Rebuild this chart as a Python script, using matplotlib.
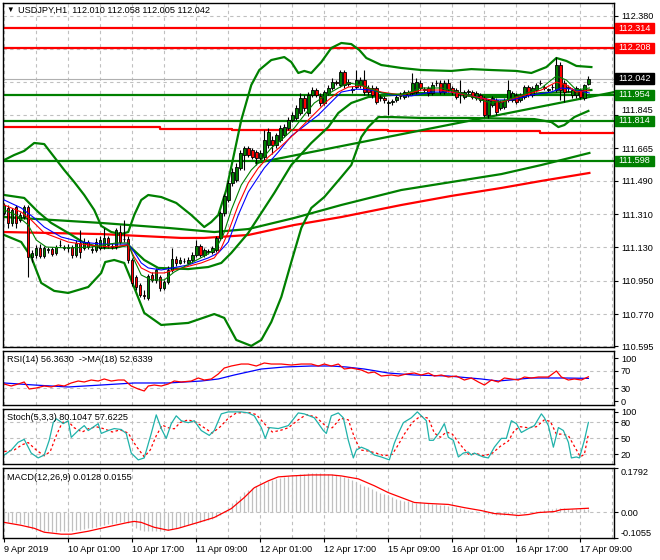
import matplotlib.pyplot as plt
import matplotlib.transforms as mtransforms
from matplotlib.patches import Rectangle

plt.rcParams['font.family'] = ['Liberation Sans', 'DejaVu Sans']
plt.rcParams['font.size'] = 6.6

GREEN = '#008000'
GRID = '#c0c0c0'

# USDJPY H1 candles, bar 0 = 9 Apr 09:00
opens = [
    111.316, 111.343, 111.262, 111.348, 111.278, 111.294, 111.348, 111.078, 111.089, 111.127,
    111.084, 111.116, 111.121, 111.100, 111.143, 111.127, 111.127, 111.132, 111.089, 111.154,
    111.127, 111.159, 111.116, 111.116, 111.127, 111.132, 111.181, 111.132, 111.132, 111.213,
    111.175, 111.175, 111.062, 110.970, 110.927, 110.873, 110.857, 110.981, 110.954, 110.970,
    110.911, 110.943, 111.008, 111.067, 111.046, 111.057, 111.046, 111.062, 111.089, 111.138,
    111.089, 111.105, 111.105, 111.116, 111.181, 111.316, 111.386, 111.478, 111.494, 111.559,
    111.629, 111.667, 111.656, 111.645, 111.613, 111.618, 111.683, 111.710, 111.683, 111.710,
    111.737, 111.775, 111.818, 111.829, 111.856, 111.937, 111.856, 111.953, 111.980, 111.948,
    111.910, 111.964, 111.991, 112.023, 112.007, 112.077, 112.023, 111.980, 111.996, 112.007,
    112.034, 111.991, 111.991, 111.991, 111.937, 111.937, 111.910, 111.915, 111.926, 111.948,
    111.942, 111.953, 111.964, 111.969, 112.018, 111.980, 111.991, 111.964, 112.018, 112.018,
    111.969, 112.018, 111.991, 111.980, 111.969, 111.942, 111.969, 111.969, 111.937, 111.953,
    111.937, 111.845, 111.899, 111.926, 111.883, 111.888, 111.926, 111.926, 111.953, 111.926,
    111.942, 111.996, 111.953, 111.980, 112.018, 111.991, 111.980, 111.996, 111.980, 112.115,
    112.018, 111.991, 111.953, 111.953, 111.980, 111.937, 112.010]
highs = [
    111.370, 111.359, 111.343, 111.359, 111.321, 111.359, 111.359, 111.116, 111.143, 111.148,
    111.138, 111.132, 111.132, 111.143, 111.170, 111.143, 111.148, 111.143, 111.170, 111.224,
    111.181, 111.170, 111.138, 111.181, 111.192, 111.235, 111.192, 111.154, 111.235, 111.251,
    111.278, 111.192, 111.073, 110.981, 110.938, 110.900, 110.986, 110.997, 111.019, 110.981,
    110.954, 111.030, 111.127, 111.084, 111.078, 111.073, 111.078, 111.105, 111.170, 111.148,
    111.127, 111.121, 111.138, 111.192, 111.327, 111.418, 111.494, 111.559, 111.586, 111.656,
    111.678, 111.678, 111.667, 111.656, 111.656, 111.764, 111.775, 111.732, 111.748, 111.791,
    111.796, 111.834, 111.861, 111.899, 111.964, 111.953, 111.969, 111.996, 111.991, 111.964,
    111.980, 112.007, 112.045, 112.034, 112.088, 112.088, 112.039, 112.002, 112.088, 112.050,
    112.088, 112.007, 112.007, 112.002, 111.953, 111.948, 111.926, 111.931, 111.953, 111.969,
    111.980, 111.980, 112.072, 112.045, 112.034, 111.996, 112.002, 112.023, 112.034, 112.034,
    112.034, 112.039, 112.002, 111.991, 112.034, 111.980, 111.985, 111.980, 111.975, 111.964,
    111.948, 111.931, 111.948, 111.937, 111.926, 111.937, 112.034, 111.975, 111.964, 111.964,
    112.007, 112.007, 112.002, 112.018, 112.034, 112.007, 111.991, 112.012, 112.158, 112.131,
    112.034, 112.007, 111.991, 112.002, 111.991, 112.012, 112.058]
lows = [
    111.305, 111.235, 111.246, 111.235, 111.267, 111.283, 110.970, 111.051, 111.073, 111.073,
    111.073, 111.100, 111.084, 111.089, 111.132, 111.116, 111.105, 111.073, 111.078, 111.073,
    111.116, 111.121, 111.100, 111.105, 111.116, 111.121, 111.127, 111.121, 111.121, 111.148,
    111.159, 111.046, 110.922, 110.900, 110.862, 110.851, 110.846, 110.943, 110.938, 110.895,
    110.900, 110.932, 110.997, 111.030, 111.040, 111.046, 111.035, 111.051, 111.078, 111.078,
    111.078, 111.094, 111.094, 111.105, 111.170, 111.300, 111.375, 111.462, 111.483, 111.548,
    111.548, 111.618, 111.607, 111.575, 111.602, 111.602, 111.667, 111.634, 111.667, 111.699,
    111.726, 111.764, 111.807, 111.818, 111.845, 111.867, 111.840, 111.942, 111.942, 111.894,
    111.899, 111.953, 111.980, 112.007, 111.996, 111.991, 112.002, 111.964, 111.985, 111.991,
    111.953, 111.953, 111.937, 111.904, 111.921, 111.910, 111.845, 111.899, 111.915, 111.931,
    111.931, 111.942, 111.953, 111.958, 111.980, 111.969, 111.948, 111.953, 112.002, 111.958,
    111.958, 111.969, 111.953, 111.931, 111.910, 111.931, 111.958, 111.931, 111.926, 111.915,
    111.834, 111.829, 111.888, 111.845, 111.872, 111.877, 111.915, 111.915, 111.904, 111.915,
    111.931, 111.942, 111.942, 111.969, 112.007, 111.980, 111.969, 111.980, 111.969, 111.926,
    111.915, 111.969, 111.937, 111.937, 111.931, 111.926, 112.005]
closes = [
    111.359, 111.262, 111.332, 111.262, 111.305, 111.348, 111.078, 111.100, 111.127, 111.084,
    111.127, 111.119, 111.094, 111.132, 111.145, 111.132, 111.130, 111.089, 111.154, 111.105,
    111.159, 111.132, 111.119, 111.159, 111.170, 111.181, 111.143, 111.135, 111.224, 111.159,
    111.178, 111.062, 110.938, 110.916, 110.873, 110.870, 110.976, 110.954, 111.008, 110.911,
    110.943, 111.008, 111.067, 111.046, 111.062, 111.055, 111.062, 111.089, 111.138, 111.089,
    111.116, 111.108, 111.127, 111.181, 111.316, 111.408, 111.478, 111.537, 111.564, 111.640,
    111.667, 111.629, 111.618, 111.613, 111.640, 111.710, 111.753, 111.683, 111.737, 111.775,
    111.780, 111.818, 111.845, 111.883, 111.937, 111.883, 111.953, 111.980, 111.953, 111.910,
    111.969, 111.991, 112.023, 112.020, 112.077, 112.007, 112.015, 111.985, 112.034, 112.034,
    111.969, 111.969, 111.953, 111.915, 111.940, 111.926, 111.915, 111.918, 111.942, 111.945,
    111.969, 111.969, 112.018, 112.023, 111.991, 111.983, 111.964, 112.007, 112.020, 111.969,
    112.018, 111.980, 111.969, 111.942, 111.966, 111.969, 111.972, 111.942, 111.964, 111.926,
    111.845, 111.926, 111.937, 111.861, 111.915, 111.926, 111.980, 111.964, 111.915, 111.953,
    111.996, 111.953, 111.991, 112.007, 112.020, 111.994, 111.983, 111.999, 112.115, 111.980,
    111.969, 111.994, 111.980, 111.991, 111.942, 112.007, 112.042]

# Bollinger bands (upper / middle / lower), sampled
bb_up_x = [0, 2.5, 5, 7.5, 10, 12.5, 15, 17.5, 20, 22.5, 24.25, 26.75, 29.25, 31, 32.5, 34.25, 36,
           39.25, 43, 46.75, 50, 51.75, 53.5, 55.5, 57.5, 59.25, 61.75, 63.75, 66.75, 70, 71.75,
           73.5, 75, 76.75, 79.25, 81.75, 84.25, 86.75, 88.75, 90.5, 94.25, 99.25, 104.25, 111.75,
           116.75, 121.75, 128, 131.75, 135.5, 138, 140.5, 143, 146.75]
bb_up_y = [111.602, 111.629, 111.651, 111.694, 111.688, 111.618, 111.548, 111.483, 111.413, 111.332,
           111.246, 111.213, 111.202, 111.213, 111.305, 111.386, 111.413, 111.402, 111.370, 111.305,
           111.240, 111.267, 111.305, 111.440, 111.640, 111.818, 112.007, 112.088, 112.142, 112.158,
           112.131, 112.072, 112.083, 112.072, 112.131, 112.207, 112.234, 112.228, 112.196, 112.153,
           112.115, 112.099, 112.088, 112.083, 112.093, 112.088, 112.083, 112.072, 112.104, 112.153,
           112.137, 112.110, 112.104]
bb_mid_x = [0, 5, 8.5, 11.75, 16, 20, 24.25, 27.5, 31, 35, 38.5, 46, 51, 54.25, 56.75, 61, 64.25,
            67.5, 71.75, 76.75, 81, 83.5, 86.75, 91, 96.75, 104.25, 111.75, 119.25, 126.75, 134.25,
            141.75, 146.75]
bb_mid_y = [111.413, 111.397, 111.321, 111.262, 111.208, 111.154, 111.127, 111.127, 111.143, 111.062,
            111.019, 111.013, 111.024, 111.046, 111.100, 111.208, 111.316, 111.424, 111.575, 111.694,
            111.780, 111.856, 111.910, 111.942, 111.953, 111.964, 111.958, 111.942, 111.942, 111.964,
            111.969, 111.980]
bb_lo_x = [0, 4.25, 6.75, 9.25, 12.5, 16, 21, 24.25, 25.25, 27.5, 30, 31.75, 35, 39.25, 46, 52.5, 55,
           58, 61.75, 64.25, 66.75, 69.25, 71.75, 74.25, 76.75, 80, 84.25, 86.75, 89.25, 91, 93.5,
           96.75, 104.25, 116, 132.5, 136.75, 138.5, 140, 142.5, 146]
bb_lo_y = [111.197, 111.159, 111.078, 110.938, 110.895, 110.884, 110.916, 110.992, 111.051, 111.062,
           111.046, 110.954, 110.776, 110.711, 110.722, 110.770, 110.749, 110.630, 110.598, 110.630,
           110.727, 110.862, 111.051, 111.235, 111.343, 111.402, 111.510, 111.575, 111.726, 111.780,
           111.834, 111.834, 111.829, 111.829, 111.823, 111.807, 111.780, 111.791, 111.834, 111.867]

# fast moving averages (green, red, blue)
ma_g_x = [0, 3, 6, 8, 10.5, 16, 21.75, 28, 31, 32.5, 34.25, 36.75, 40, 42.5, 46.75, 50.5, 53, 54.75,
          56.75, 59.25, 61.75, 64.25, 66.75, 69.25, 72.5, 75, 77.5, 80.5, 83.5, 86, 89.25, 94.25,
          99.25, 104.25, 109.25, 114.25, 119.25, 121.75, 125.5, 129.25, 134.25, 138, 140.5, 143,
          146.25]
ma_g_y = [111.332, 111.305, 111.251, 111.170, 111.132, 111.127, 111.132, 111.154, 111.154, 111.062,
          110.981, 110.954, 110.954, 110.997, 111.046, 111.089, 111.127, 111.197, 111.332, 111.467,
          111.548, 111.602, 111.667, 111.710, 111.775, 111.845, 111.910, 111.953, 111.991, 112.018,
          112.007, 111.964, 111.953, 111.991, 111.991, 111.964, 111.926, 111.910, 111.926, 111.953,
          111.991, 112.056, 112.034, 111.980, 111.991]
ma_r_x = [0, 4.25, 6.75, 10, 16, 21, 26.75, 31, 32.5, 34.25, 36.75, 40, 42.5, 49.25, 52.5, 54.25,
          56, 58.5, 61, 63.5, 66, 69.25, 72.5, 76, 78.5, 81, 83.5, 86, 89.25, 94.25, 99.25, 104.25,
          109.25, 114.25, 119.25, 124.25, 129.25, 134.25, 138, 140.5, 143, 146.25]
ma_r_y = [111.359, 111.321, 111.278, 111.208, 111.159, 111.143, 111.132, 111.143, 111.078, 111.019,
          110.992, 110.992, 111.008, 111.046, 111.073, 111.127, 111.213, 111.359, 111.478, 111.559,
          111.618, 111.678, 111.742, 111.818, 111.872, 111.926, 111.969, 111.996, 112.002, 111.969,
          111.953, 111.980, 111.980, 111.958, 111.937, 111.915, 111.948, 111.980, 112.023, 112.007,
          111.969, 111.980]
ma_b_x = [0, 4.25, 7.5, 10, 14.25, 19.25, 24.25, 31, 32.5, 34.25, 36, 39.25, 46, 51, 53.5, 56, 58.5,
          61, 65, 68.5, 71.75, 75, 78.5, 81.75, 84.25, 88, 91.75, 96.75, 101.75, 106.75, 111.75,
          116.75, 121.75, 126.75, 131.75, 136.75, 139.25, 141.75, 146.25]
ma_b_y = [111.386, 111.343, 111.289, 111.240, 111.186, 111.159, 111.148, 111.148, 111.105, 111.046,
          111.019, 111.008, 111.035, 111.073, 111.100, 111.159, 111.305, 111.429, 111.559, 111.645,
          111.732, 111.786, 111.845, 111.915, 111.969, 111.985, 111.980, 111.953, 111.948, 111.969,
          111.969, 111.948, 111.926, 111.926, 111.953, 111.969, 111.991, 111.985, 111.964]

# slow moving averages, step line and trend line
slow_g_x = [0, 24.25, 41, 52.5, 61, 72.5, 84.25, 99.25, 111.75, 124.25, 134.25, 139.25, 146.25]
slow_g_y = [111.294, 111.262, 111.235, 111.213, 111.229, 111.289, 111.359, 111.440, 111.483, 111.526,
            111.575, 111.602, 111.640]
slow_r_x = [0, 24.25, 44.25, 50, 61, 72.5, 84.25, 99.25, 111.75, 124.25, 134.25, 146.25]
slow_r_y = [111.213, 111.202, 111.181, 111.181, 111.197, 111.251, 111.294, 111.359, 111.408, 111.451,
            111.489, 111.532]
step_r_x = [0, 39, 57, 96, 134, 152.5]
step_r_y = [111.780, 111.770, 111.764, 111.758, 111.747, 111.747]
trend_x = [63, 152.5]
trend_y = [111.586, 111.969]

levels_red = [112.314, 112.208]
levels_green = [111.954, 111.814, 111.598]
last_price = 112.042
price_ticks = [110.595, 110.770, 110.950, 111.130, 111.310, 111.490, 111.665, 111.845,
               112.025, 112.200, 112.380]
hidden_ticks = [112.025, 112.200]   # covered by the level boxes on the original

# RSI(14) and its MA(18)
rsi_x = [0, 1.75, 3.5, 5, 6.25, 8, 10, 11.75, 13.5, 15, 16.75, 18.5, 20, 21.75, 23.5, 25, 26.75, 28.5,
         30, 31.75, 33.5, 35, 36, 37.5, 39.25, 41, 42.5, 44.25, 46.75, 48.5, 50, 51.75, 53.5, 55,
         56.75, 59.25, 61, 63, 65, 66.75, 69.25, 71.75, 74.25, 76.75, 78.5, 80, 81.75, 83.5, 85,
         86.75, 89.25, 91, 92.5, 94.25, 96.75, 98.5, 100.5, 102.5, 104.25, 106, 107.5, 109.25, 111,
         113, 115, 116.75, 118.5, 120, 121.75, 123.5, 125, 126.75, 128.5, 130, 131.75, 133.5, 136,
         138, 139.25, 141, 142.5, 144.25, 146]
rsi_y = [39.5, 34.9, 39.5, 44.2, 27.9, 30.2, 34.9, 32.6, 37.2, 34.9, 41.9, 46.5, 44.2, 48.8, 46.5,
         51.2, 46.5, 48.8, 48.8, 34.9, 27.9, 23.3, 34.9, 37.2, 34.9, 39.5, 46.5, 44.2, 46.5, 53.5,
         48.8, 51.2, 62.8, 76.7, 81.4, 86.0, 86.0, 81.4, 88.4, 86.0, 86.0, 83.7, 86.0, 86.0, 81.4,
         86.0, 81.4, 86.0, 74.4, 76.7, 72.1, 65.1, 67.4, 58.1, 60.5, 58.1, 62.8, 65.1, 60.5, 65.1,
         58.1, 60.5, 55.8, 58.1, 48.8, 53.5, 44.2, 37.2, 48.8, 44.2, 53.5, 51.2, 48.8, 55.8, 53.5,
         55.8, 55.8, 69.8, 55.8, 48.8, 51.2, 48.8, 56.36]
rsi_ma_x = [0, 7.5, 16, 24.25, 32.5, 41, 49.25, 53.5, 57.5, 64.25, 70, 76.75, 81.75, 85.5, 90, 96,
            102.5, 111, 119.25, 123.5, 131.75, 140, 146]
rsi_ma_y = [41.9, 37.2, 32.6, 37.2, 41.9, 41.9, 46.5, 51.2, 60.5, 74.4, 79.1, 81.4, 81.4, 79.1, 74.4,
            65.1, 60.5, 58.1, 51.2, 46.5, 53.5, 53.5, 52.63]

# Stochastic(5,3,3)
st_x = [0, 1.75, 3.5, 5, 6.75, 8.5, 10, 11.25, 12.25, 13, 13.75, 14.75, 16, 16.75, 18.5, 20, 21,
        23.5, 24.25, 26, 27.5, 29.25, 30.5, 31.75, 33.5, 35, 36.75, 38, 39.25, 40.5, 41.75, 43,
        44.25, 46, 47.5, 49.25, 51.25, 52.5, 54.25, 56, 59.25, 61, 62.5, 64.25, 65.25, 66.25, 68.5,
        71, 73.5, 75, 77.5, 79.75, 80.5, 81.75, 83.5, 84.75, 86, 87.25, 88, 89.25, 91, 92.5, 94.25,
        96.25, 97.5, 98.5, 99.75, 101.75, 103.25, 104.25, 105.5, 106.25, 107.25, 108.75, 110, 111,
        112.25, 113.5, 114.75, 116, 116.75, 117.5, 118.5, 119.75, 121, 122.5, 124.25, 125.5,
        126.75, 128, 129.25, 131, 132.5, 134.25, 135, 136, 137.25, 138.5, 139.75, 141, 141.75, 143,
        143.75, 145, 146]
st_y = [18.5, 27.8, 42.6, 48.1, 22.2, 13.0, 18.5, 46.3, 79.6, 87.0, 83.3, 77.8, 83.3, 51.9, 64.8,
        74.1, 64.8, 77.8, 59.3, 64.8, 68.5, 66.7, 59.3, 22.2, 9.3, 13.0, 59.3, 94.4, 68.5, 50.0,
        77.8, 92.6, 83.3, 79.6, 83.3, 64.8, 55.6, 64.8, 96.3, 100, 100, 98.1, 92.6, 70.4, 50.0, 70.4,
        68.5, 74.1, 98.1, 96.3, 88.9, 64.8, 59.3, 92.6, 98.1, 88.9, 46.3, 13.0, 27.8, 33.3, 27.8,
        18.5, 14.8, 9.3, 40.7, 59.3, 79.6, 88.9, 100, 92.6, 83.3, 46.3, 46.3, 61.1, 77.8, 51.9,
        46.3, 14.8, 22.2, 24.1, 18.5, 22.2, 18.5, 14.8, 13.0, 33.3, 50.0, 50.0, 83.3, 77.8, 61.1,
        68.5, 74.1, 96.3, 88.9, 74.1, 33.3, 70.4, 64.8, 42.6, 13.0, 14.8, 13.0, 46.3, 80.1]
sig_x = [0, 2.5, 4.5, 6, 8, 10, 11.5, 13, 14.5, 16, 17.5, 19.5, 21, 23, 25, 27, 29, 31, 33, 35,
         36.5, 38, 39.5, 41, 42.5, 44, 46, 48, 50, 52, 54, 56, 58, 61, 63, 65, 67, 69, 71, 73.5,
         75.5, 78, 80.5, 82, 84, 86, 87.5, 89, 91, 93, 95, 97, 98.5, 100, 102, 104, 106, 107.5,
         109, 110.5, 112, 114, 116, 118, 120, 122, 124, 126, 127.5, 129, 131, 133, 135, 136.5, 138,
         139.5, 141, 142.5, 144, 145, 146]
sig_y = [25, 28, 38, 42, 28, 17, 25, 55, 80, 82, 70, 62, 68, 72, 68, 62, 66, 60, 35, 15, 28, 55,
         75, 70, 68, 80, 85, 80, 70, 60, 72, 88, 98, 99, 95, 78, 62, 65, 70, 85, 95, 90, 72, 70, 88,
         85, 52, 28, 26, 22, 17, 20, 38, 58, 80, 92, 88, 60, 52, 62, 58, 38, 20, 21, 17, 22, 35, 45,
         65, 72, 70, 72, 85, 82, 58, 58, 55, 35, 15, 20, 57.6]

# MACD(12,26,9): histogram per bar and signal line
macd_main = [
    -0.040, -0.042, -0.044, -0.046, -0.048, -0.050, -0.062,
    -0.068, -0.072, -0.075, -0.077, -0.079, -0.080, -0.080, -0.079, -0.078, -0.077,
    -0.076, -0.074, -0.072, -0.069, -0.066, -0.063, -0.060, -0.057,
    -0.053, -0.050, -0.048, -0.044, -0.042, -0.040, -0.046,
    -0.056, -0.064, -0.071, -0.077, -0.078, -0.078, -0.077, -0.077,
    -0.075, -0.072, -0.067, -0.064, -0.060, -0.056, -0.052, -0.048, -0.043,
    -0.040, -0.036, -0.032, -0.028, -0.022,
    -0.010, 0.004, 0.020, 0.036, 0.050, 0.066, 0.080,
    0.090, 0.098, 0.104, 0.110, 0.118, 0.125, 0.130, 0.135, 0.139, 0.143,
    0.146, 0.149, 0.152, 0.154, 0.156, 0.157, 0.158, 0.158, 0.158, 0.157, 0.156, 0.155,
    0.152, 0.148, 0.143, 0.137, 0.130, 0.122, 0.115, 0.107, 0.100, 0.092,
    0.085, 0.079, 0.072, 0.066, 0.060, 0.055, 0.051, 0.047, 0.043, 0.040,
    0.038, 0.037, 0.036, 0.035, 0.034, 0.032, 0.030, 0.028, 0.026, 0.024,
    0.021, 0.018, 0.014, 0.010, 0.006, 0.003, 0.000, -0.004, -0.006, -0.008,
    -0.010, -0.010, -0.010, -0.009, -0.008, -0.006, -0.004, -0.002, 0.000, 0.002,
    0.004, 0.006, 0.008, 0.010, 0.012, 0.016, 0.016, 0.015, 0.014, 0.013, 0.012, 0.012, 0.012,
    0.0128]
macd_sig_x = [0, 4.25, 7.5, 10, 14.25, 16.75, 21, 24.25, 31, 32.5, 34.25, 37.5, 41, 43.5, 48.5,
              52.5, 56.75, 60, 62.5, 66, 68.5, 71.75, 76.75, 81.75, 84.25, 88.5, 92.5, 96, 99.25,
              102.5, 106, 111, 115, 119.25, 122.5, 126, 128.5, 131, 133.5, 137.5, 139.25, 146]
macd_sig_y = [-0.042, -0.054, -0.066, -0.082, -0.090, -0.090, -0.078, -0.066, -0.042, -0.038,
              -0.042, -0.062, -0.074, -0.066, -0.042, -0.022, 0.014, 0.059, 0.099, 0.127, 0.143,
              0.147, 0.151, 0.151, 0.147, 0.135, 0.107, 0.079, 0.059, 0.039, 0.035, 0.031, 0.018,
              0.006, -0.006, -0.010, -0.014, -0.010, -0.002, 0.002, 0.010, 0.0155]

date_bars = [0, 16, 32, 48, 64, 80, 96, 112, 128, 144]
date_labels = ['9 Apr 2019', '10 Apr 01:00', '10 Apr 17:00', '11 Apr 09:00', '12 Apr 01:00',
               '12 Apr 17:00', '15 Apr 09:00', '16 Apr 01:00', '16 Apr 17:00', '17 Apr 09:00']

n = len(closes)
assert len(opens) == n and len(highs) == n and len(lows) == n and len(macd_main) == n
bars = list(range(n))

fig = plt.figure(figsize=(6.6, 5.6), dpi=100)


def panel(top, bottom):
    ax = fig.add_axes([3 / 660, 1 - bottom / 560, 611 / 660, (bottom - top) / 560])
    ax.set_xlim(-0.3, 152.4)
    for s in ax.spines.values():
        s.set_linewidth(1.0)
        s.set_color('black')
    ax.yaxis.tick_right()
    ax.tick_params(axis='y', length=3, width=0.8, pad=2, labelsize=6.6)
    ax.tick_params(axis='x', length=0, labelbottom=False)
    ax.set_xticks([])
    for gx in range(0, 153, 8):
        ax.axvline(gx, color=GRID, ls=(0, (3, 3)), lw=0.8, zorder=0)
    return ax


# ---- main price panel
ax = panel(3, 347)
ax.set_ylim(110.592, 112.450)
ax.set_yticks(price_ticks)
ax.set_yticklabels(['' if t in hidden_ticks else '%.3f' % t for t in price_ticks])
for t, lbl in zip(price_ticks, ax.get_yticklabels()):
    if t == 111.845:
        lbl.set_va('bottom')
for t in price_ticks:
    ax.axhline(t, color=GRID, ls=(0, (3, 3)), lw=0.8, zorder=0)

ax.axhline(last_price, color='#b0b0b0', lw=0.8, zorder=1)
for lv in levels_red:
    ax.axhline(lv, color='red', lw=1.6, zorder=2)
for lv in levels_green:
    ax.axhline(lv, color=GREEN, lw=1.6, zorder=2)

ax.plot(step_r_x, step_r_y, color='red', lw=1.6, drawstyle='steps-post', zorder=2)
ax.plot(slow_r_x, slow_r_y, color='red', lw=1.6, zorder=2)
ax.plot(slow_g_x, slow_g_y, color=GREEN, lw=1.6, zorder=2)
ax.plot(trend_x, trend_y, color=GREEN, lw=1.6, zorder=2)
ax.plot(bb_up_x, bb_up_y, color=GREEN, lw=1.6, zorder=2)
ax.plot(bb_mid_x, bb_mid_y, color=GREEN, lw=1.6, zorder=2)
ax.plot(bb_lo_x, bb_lo_y, color=GREEN, lw=1.6, zorder=2)

ax.vlines(bars, lows, highs, color='black', lw=0.8, zorder=3)
bottoms = [min(o, c) for o, c in zip(opens, closes)]
heights = [max(abs(c - o), 0.0015) for o, c in zip(opens, closes)]
colors = [GREEN if c >= o else 'red' for o, c in zip(opens, closes)]
ax.bar(bars, heights, bottom=bottoms, width=0.62, color=colors, edgecolor='black',
       linewidth=0.6, zorder=3)

ax.plot(ma_b_x, ma_b_y, color='blue', lw=0.8, zorder=4)
ax.plot(ma_r_x, ma_r_y, color='red', lw=0.8, zorder=4)
ax.plot(ma_g_x, ma_g_y, color=GREEN, lw=0.8, zorder=4)

# price boxes on the right scale
trans = mtransforms.blended_transform_factory(ax.transAxes, ax.transData)
boxes = [(levels_red[0], 'red'), (levels_red[1], 'red'), (last_price, 'black'),
         (levels_green[0], GREEN), (levels_green[1], GREEN), (levels_green[2], GREEN)]
for price, fc in boxes:
    ax.add_patch(Rectangle((1.002, price - 0.028), 0.063, 0.056, transform=trans,
                           fc=fc, ec=fc, clip_on=False, zorder=9))
    ax.text(1.0075, price, '%.3f' % price, transform=trans, color='white', va='center',
            ha='left', fontsize=6.6, clip_on=False, zorder=10)

fig.text(6 / 660, 1 - 10 / 560, '\u25bc', fontsize=5.5, va='center', ha='left')
fig.text(18 / 660, 1 - 10 / 560, 'USDJPY,H1  112.010 112.058 112.005 112.042',
         va='center', ha='left')

# ---- RSI panel
ax_rsi = panel(351, 405)
ax_rsi.set_ylim(-9.3, 116.3)
ax_rsi.set_yticks([0, 30, 70, 100])
for lv in [30, 70]:
    ax_rsi.axhline(lv, color=GRID, ls=(0, (3, 3)), lw=0.8, zorder=0)
ax_rsi.plot(rsi_ma_x, rsi_ma_y, color='blue', lw=0.9)
ax_rsi.plot(rsi_x, rsi_y, color='red', lw=0.9)
fig.text(7 / 660, 1 - 359 / 560, 'RSI(14) 56.3630  ->MA(18) 52.6339', va='center', ha='left')

# ---- Stochastic panel
ax_st = panel(409, 464)
ax_st.set_ylim(1.5, 105.5)
ax_st.set_yticks([20, 50, 80, 100])
for lv in [20, 50, 80]:
    ax_st.axhline(lv, color=GRID, ls=(0, (3, 3)), lw=0.8, zorder=0)
ax_st.plot(sig_x, sig_y, color='red', lw=0.9, ls=(0, (2, 2)))
ax_st.plot(st_x, st_y, color='#20b2aa', lw=0.9)
fig.text(7 / 660, 1 - 418 / 560, 'Stoch(5,3,3) 80.1047 57.6225', va='center', ha='left')

# ---- MACD panel
ax_m = panel(468, 538)
ax_m.set_ylim(-0.1055, 0.1792)
ax_m.set_yticks([-0.1055, 0, 0.1792])
ax_m.set_yticklabels(['-0.1055', '0.00', '0.1792'])
tl = ax_m.get_yticklabels()
tl[0].set_va('bottom')
tl[2].set_va('top')
ax_m.axhline(0, color=GRID, ls=(0, (3, 3)), lw=0.8, zorder=0)
ax_m.vlines(bars, 0, macd_main, color='#c0c0c0', lw=0.9)
ax_m.plot(macd_sig_x, macd_sig_y, color='red', lw=0.9)
fig.text(7 / 660, 1 - 477 / 560, 'MACD(12,26,9) 0.0128 0.0155', va='center', ha='left')

ax_m.set_xticks(date_bars)
ax_m.set_xticklabels(date_labels)
ax_m.tick_params(axis='x', length=3, width=0.8, pad=2, labelbottom=True, labelsize=6.6)
for lbl in ax_m.get_xticklabels():
    lbl.set_ha('left')

fig.savefig('out.png', dpi=100)
